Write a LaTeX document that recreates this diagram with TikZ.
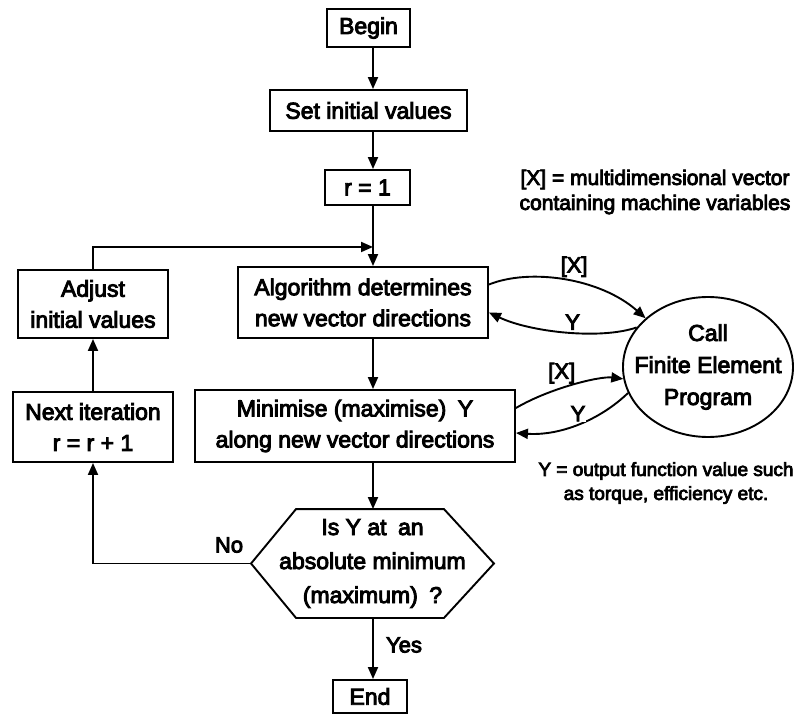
\documentclass[tikz,border=0pt]{standalone}
\usepackage{fontspec}
\setmainfont{Liberation Sans}
\newfontfamily\heavy[FakeBold=4]{Liberation Sans}
\usetikzlibrary{arrows.meta,shapes.geometric}
\begin{document}
\begin{tikzpicture}[x=1pt,y=-1pt,
  line width=1.9pt,
  >={Triangle[length=12pt,width=10pt]},
  box/.style={draw, line width=1.9pt, inner sep=0pt, align=center,
    font=\heavy\fontsize{23}{31}\selectfont},
  lbl/.style={inner sep=1pt, font=\heavy\fontsize{22}{26}\selectfont},
  note/.style={inner sep=0pt, align=center, font=\heavy\fontsize{21}{25}\selectfont}]
\useasboundingbox (0,0) rectangle (795,719);
\coordinate (ax) at (373,0);
\coordinate (j) at (373,247);
% nodes
\node[box, minimum width=83, minimum height=38] (begin) at (368.5,28) {Begin};
\node[box, minimum width=197, minimum height=41] (set) at (368.5,110.5) {Set initial values};
\node[box, minimum width=85, minimum height=35] (r1) at (367.5,187.5) {r = 1};
\node[box, minimum width=250, minimum height=71] (alg) at (363,302.5) {Algorithm determines\\new vector directions};
\node[box, minimum width=320, minimum height=72] (min) at (355,426) {Minimise (maximise)\enspace Y\\along new vector directions};
\node[box, minimum width=150, minimum height=68] (adj) at (93,304) {Adjust\\initial values};
\node[box, minimum width=160, minimum height=70] (next) at (93,427) {Next iteration\\r = r + 1};
\node[inner sep=0pt, minimum width=241, minimum height=107, align=center,
  font=\heavy\fontsize{23}{34}\selectfont] (hex) at (372.5,563.5)
  {Is Y at\enspace an\\absolute minimum\\(maximum)\enspace ?};
\draw (hex.west) -- ([xshift=45pt]hex.north west) -- ([xshift=-50pt]hex.north east)
  -- (hex.east) -- ([xshift=-50pt]hex.south east) -- ([xshift=45pt]hex.south west) -- cycle;
\node[box, minimum width=74, minimum height=33] (end) at (370,696.5) {End};
\node[draw, line width=1.9pt, ellipse, inner sep=0pt, minimum width=170, minimum height=140] (fe) at (708,367) {};
\node[align=center, inner sep=0pt, font=\heavy\fontsize{23}{32}\selectfont] (fetext) at (fe.center)
  {Call\\Finite Element\\Program};
% notes
\node[note] (n1) at (655,192) {[X] = multidimensional vector\\containing machine variables};
\node[note, font=\heavy\fontsize{19}{24}\selectfont] (n2) at (666,483) {Y = output function value such\\as torque, efficiency etc.};
% main flow
\draw[->] (begin.south -| ax) -- (set.north -| ax);
\draw[->] (set.south -| ax) -- (r1.north -| ax);
\draw[->] (r1.south -| ax) -- (alg.north -| ax);
\draw[->] (alg.south -| ax) -- (min.north -| ax);
\draw[->] (min.south -| ax) -- (hex.north -| ax);
\draw[->] (hex.south -| ax) -- (end.north -| ax);
\node[lbl] (yes) at (404,645) {Yes};
% loop
\draw[->] (hex.west) -| (next.south);
\node[lbl] (no) at (229,545) {No};
\draw[->] (next.north) -- (adj.south);
\draw[->] (adj.north) |- (j);
% calls
\draw[->] ([yshift=18pt]alg.east) .. controls (530,268) and (600,278) .. (fe.142)
  node[lbl, pos=0.55, above=3pt] {[X]};
\draw[->] (fe.151) .. controls (600,340) and (530,332) .. ([yshift=-10pt]alg.east)
  node[lbl, pos=0.45, above=1pt] {Y};
\draw[->] ([yshift=18pt]min.east) .. controls (550,388) and (600,376) .. (fe.188)
  node[lbl, pos=0.4, above=3pt] {[X]};
\draw[->] (fe.198) .. controls (600,420) and (560,436) .. ([yshift=-7pt]min.east)
  node[lbl, pos=0.5, above=1pt, fill=white] {Y};
\end{tikzpicture}
\end{document}
